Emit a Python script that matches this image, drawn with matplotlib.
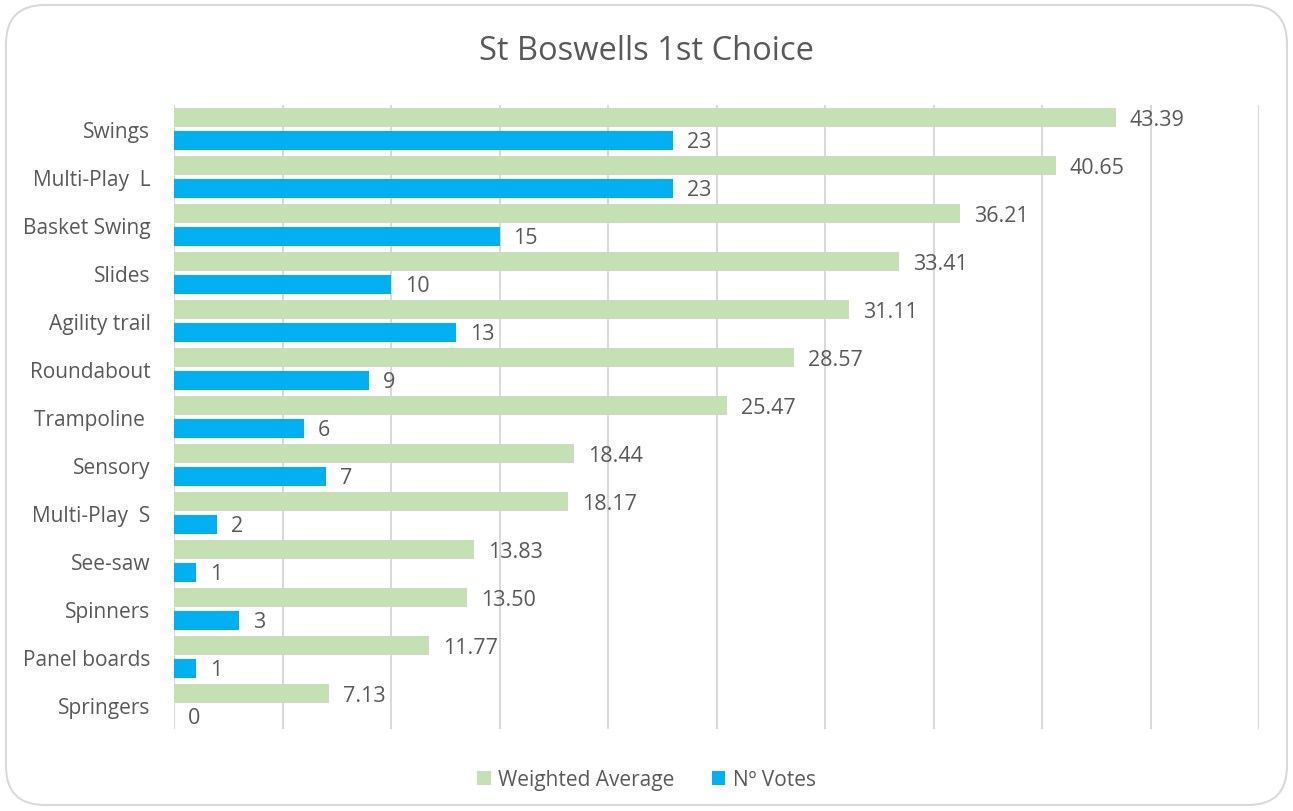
import numpy as np
from matplotlib import pyplot as plt
from matplotlib.patches import FancyBboxPatch

categories = ["Swings", "Multi-Play  L", "Basket Swing", "Slides", "Agility trail", "Roundabout",
              "Trampoline ", "Sensory", "Multi-Play  S", "See-saw", "Spinners", "Panel boards", "Springers"]
weighted_avg = [43.39, 40.65, 36.21, 33.41, 31.11, 28.57, 25.47, 18.44, 18.17, 13.83, 13.50, 11.77, 7.13]
votes = [23, 23, 15, 10, 13, 9, 6, 7, 2, 1, 3, 1, 0]

plt.rcParams['font.family'] = ['Open Sans', 'DejaVu Sans']
TXT = "#595959"
GREEN = "#C5E0B4"
BLUE = "#00B0F0"

fig = plt.figure(figsize=(12.93, 8.12), dpi=100)
border = FancyBboxPatch((6/1293, 6/812), 1281/1293, 800/812,
                        boxstyle="round,pad=0,rounding_size=0.03",
                        transform=fig.transFigure, facecolor="none",
                        edgecolor="#D9D9D9", linewidth=1.5, mutation_aspect=1293/812, zorder=-1)
fig.patches.append(border)

ax = fig.add_axes([174/1293, 1 - 730/812, (1259-174)/1293, (730-106)/812])
ax.set_facecolor("none")

y = np.arange(len(categories))
h = 0.39
off = 0.235
ax.barh(y - off, weighted_avg, height=h, color=GREEN, label="Weighted Average")
ax.barh(y + off, votes, height=h, color=BLUE, label="Nº Votes")

for i in range(len(categories)):
    ax.annotate(f"{weighted_avg[i]:.2f}", (weighted_avg[i], y[i] - off), xytext=(10, -1),
                textcoords="offset points", va="center", ha="left", fontsize=15.5, color=TXT)
    ax.annotate(f"{votes[i]}", (votes[i], y[i] + off), xytext=(10, -1),
                textcoords="offset points", va="center", ha="left", fontsize=15.5, color=TXT)

ax.set_xlim(0, 50)
ax.set_ylim(len(categories) - 0.5, -0.5)
ax.set_xticks(np.arange(0, 51, 5))
ax.set_xticklabels([])
ax.tick_params(axis="x", length=0)
ax.tick_params(axis="y", length=0, pad=17, labelsize=15, labelcolor=TXT)
ax.set_yticks(y)
ax.set_yticklabels(categories)
ax.grid(axis="x", color="#D9D9D9", linewidth=1.5)
ax.set_axisbelow(True)
for s in ax.spines.values():
    s.set_visible(False)

fig.text(0.5, 1 - 51/812, "St Boswells 1st Choice", ha="center", va="center", fontsize=23.5, color=TXT)
fig.legend(loc="center", bbox_to_anchor=(0.5, 1 - 781/812), ncol=2, frameon=False,
           fontsize=15, labelcolor=TXT, handlelength=0.65, handleheight=0.65, columnspacing=1.8,
           handletextpad=0.35)

fig.savefig("out.png", dpi=100)
